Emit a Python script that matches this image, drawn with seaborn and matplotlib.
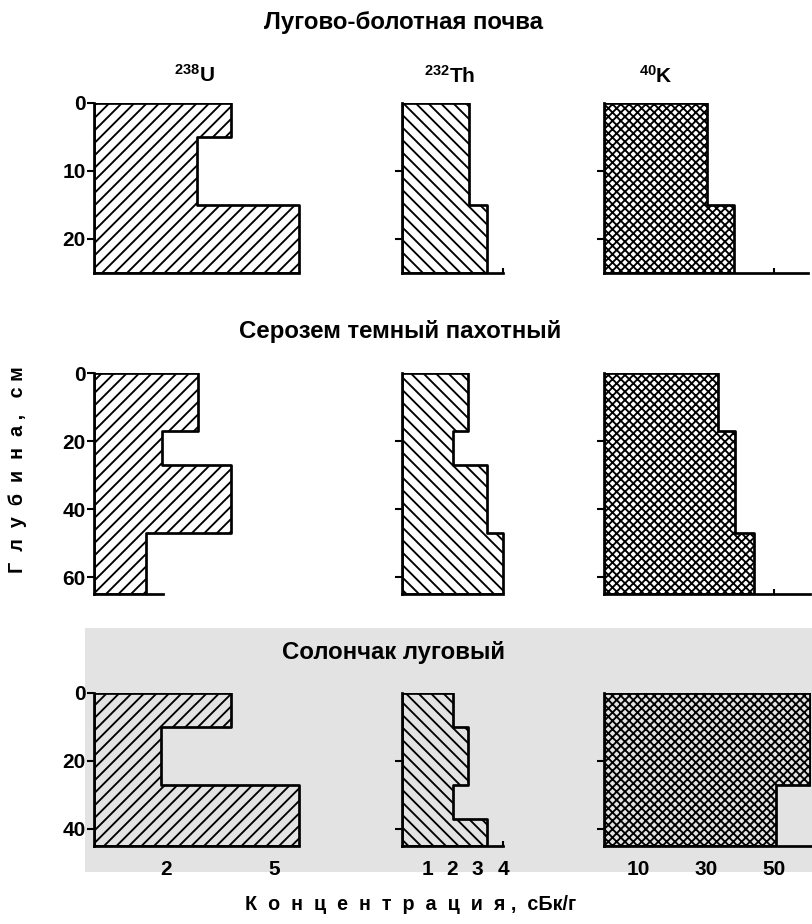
import numpy as np
import pandas as pd
import matplotlib
matplotlib.use("Agg")
import matplotlib.pyplot as plt
import seaborn as sns
from matplotlib.patches import Rectangle

sns.set_theme(style="white")
plt.rcParams['font.family'] = ['Liberation Sans', 'DejaVu Sans']
plt.rcParams['font.weight'] = 'bold'
plt.rcParams['text.color'] = 'black'
plt.rcParams['axes.labelcolor'] = 'black'
plt.rcParams['xtick.color'] = 'black'
plt.rcParams['ytick.color'] = 'black'
plt.rcParams['mathtext.fontset'] = 'custom'
plt.rcParams['mathtext.rm'] = 'Liberation Sans:bold'
plt.rcParams['mathtext.bf'] = 'Liberation Sans:bold'
plt.rcParams['mathtext.default'] = 'bf'
plt.rcParams['hatch.linewidth'] = 1.8
plt.rcParams['hatch.color'] = 'black'

# ---------------- data ----------------
soils = ["Лугово-болотная почва", "Серозем темный пахотный", "Солончак луговый"]
nuclides = ["$^{238}$U", "$^{232}$Th", "$^{40}$K"]

# layer boundaries (cm) and concentrations (сБк/г)
u_meadow_depth = [0, 5, 15, 25]
u_meadow = [3.8, 2.85, 5.7]
th_meadow_depth = [0, 15, 25]
th_meadow = [2.65, 3.35]
k_meadow_depth = [0, 15, 25]
k_meadow = [30.3, 38.2]

u_sierozem_depth = [0, 17, 27, 47, 65]
u_sierozem = [2.9, 1.9, 3.8, 1.45]
th_sierozem_depth = [0, 17, 27, 47, 65]
th_sierozem = [2.6, 2.0, 3.35, 4.0]
k_sierozem_depth = [0, 17, 47, 65]
k_sierozem = [33.5, 38.5, 44.0]

u_solon_depth = [0, 10, 27, 45]
u_solon = [3.8, 1.85, 5.7]
th_solon_depth = [0, 10, 27, 37, 45]
th_solon = [2.0, 2.6, 2.0, 3.35]
k_solon_depth = [0, 27, 45]
k_solon = [60.5, 50.5]

depth_ticks = [[0, 10, 20], [0, 20, 40, 60], [0, 20, 40]]
conc_ticks = [[2, 5], [1, 2, 3, 4], [10, 30, 50]]
conc_labels = [["2", "5"], ["1", "2", "3", "4"], ["10", "30", "50"]]

panels = [
    [(u_meadow_depth, u_meadow), (th_meadow_depth, th_meadow), (k_meadow_depth, k_meadow)],
    [(u_sierozem_depth, u_sierozem), (th_sierozem_depth, th_sierozem), (k_sierozem_depth, k_sierozem)],
    [(u_solon_depth, u_solon), (th_solon_depth, th_solon), (k_solon_depth, k_solon)],
]

# ---------------- layout (pixels) ----------------
W, H, DPI = 812, 924, 75
fig = plt.figure(figsize=(W / DPI, H / DPI), dpi=DPI)
fig.patch.set_facecolor("white")

# light grey scan background behind bottom row
fig.add_artist(Rectangle((85 / W, 1 - 872 / H), (W - 85) / W, (872 - 628) / H,
                         transform=fig.transFigure, color="#e3e3e3", zorder=-5, lw=0))

col_left = [94, 402, 604]
col_xlim = [6.0, 4.1, 61.0]
col_ppu = [36.0, 25.25, 3.4]
row_top = [103, 373, 693]
row_depth = [25, 65, 45]
row_ppc = [6.8, 3.4, 3.4]
hatches = ["//", "\\\\", "xxx"]
spine_end = [[5.7, 4.0, 60.0], [1.92, 4.0, 60.6], [5.7, 4.0, 61.0]]

for r in range(3):
    for c in range(3):
        left = col_left[c]
        width = col_xlim[c] * col_ppu[c]
        top = row_top[r]
        height = row_depth[r] * row_ppc[r]
        ax = fig.add_axes([left / W, 1 - (top + height) / H, width / W, height / H])
        ax.set_facecolor("none")
        edges, vals = panels[r][c]
        edges = [float(e) for e in edges]
        mids = [(a + b) / 2 for a, b in zip(edges[:-1], edges[1:])]
        df = pd.DataFrame({"depth": mids, "conc": vals})
        sns.histplot(data=df, y="depth", weights="conc", bins=edges, element="step",
                     fill=True, ax=ax, hatch=hatches[c],
                     facecolor="#e3e3e3" if r == 2 else "white",
                     edgecolor="black", linewidth=2.6, alpha=1)
        ax.set_xlim(0, col_xlim[c])
        ax.set_ylim(row_depth[r], 0)
        ax.set_xlabel("")
        ax.set_ylabel("")
        for s in ["top", "right"]:
            ax.spines[s].set_visible(False)
        ax.spines["left"].set_visible(True)
        ax.spines["left"].set_color("black")
        ax.spines["left"].set_linewidth(2.6)
        ax.spines["left"].set_bounds(0, row_depth[r])
        ax.spines["bottom"].set_visible(True)
        ax.spines["bottom"].set_color("black")
        ax.spines["bottom"].set_linewidth(2.6)
        ax.spines["bottom"].set_bounds(0, spine_end[r][c])
        yt = depth_ticks[r] if c == 0 else [t for t in depth_ticks[r] if t > 0]
        ax.set_yticks(yt)
        ax.tick_params(axis="y", direction="out", length=7, width=2, color="black",
                       left=True, pad=1, labelsize=20)
        if c != 0:
            ax.set_yticklabels([])
        xt = [t for t in conc_ticks[c] if t <= spine_end[r][c] + 0.05]
        ax.set_xticks(xt)
        ax.tick_params(axis="x", direction="in", length=5, width=2, color="black",
                       bottom=True, pad=13, labelsize=20)
        if r == 2:
            ax.set_xticklabels([conc_labels[c][conc_ticks[c].index(t)] for t in xt])
        else:
            ax.set_xticklabels([])
        for lab in ax.get_xticklabels() + ax.get_yticklabels():
            lab.set_fontweight("bold")
        ax.grid(False)

# titles
title_pos = [(404, 22), (400, 332), (393, 652)]
for t, (x, y) in zip(soils, title_pos):
    fig.text(x / W, 1 - y / H, t, ha="center", va="center", fontsize=23, fontweight="bold")

nuc_pos = [(194, 75), (450, 76), (656, 76)]
for t, (x, y) in zip(nuclides, nuc_pos):
    fig.text(x / W, 1 - y / H, t, ha="center", va="center", fontsize=20, fontweight="bold")

fig.text(18 / W, 1 - 470 / H, "Г  л  у  б  и  н  а ,   с м", rotation=90, ha="center",
         va="center", fontsize=19, fontweight="bold")
fig.text(411 / W, 1 - 905 / H, "К  о  н  ц  е  н  т  р  а  ц  и  я ,  сБк/г", ha="center",
         va="center", fontsize=19, fontweight="bold")

fig.savefig("out.png", dpi=DPI, facecolor="white")
